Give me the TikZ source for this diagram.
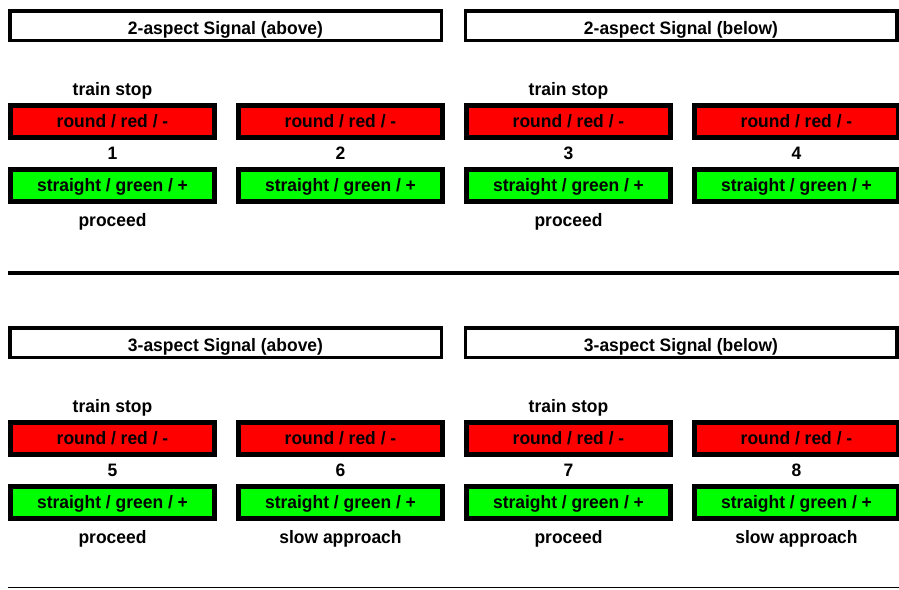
\documentclass[tikz,border=0pt]{standalone}
\usepackage{fontspec}
\setmainfont[FakeStretch=0.97]{Liberation Sans}
\begin{document}
\begin{tikzpicture}[x=1pt,y=-1pt,
  font=\fontsize{18}{20}\selectfont\bfseries,
  every node/.style={text height=12.9pt,text depth=0pt},
  sig/.style={draw=black,line width=5pt,minimum width=204pt,minimum height=32pt,inner sep=0pt,outer sep=0pt},
  redsig/.style={sig,fill=red},
  greensig/.style={sig,fill=green},
  hdr/.style={draw=black,line width=3.5pt,fill=white,minimum width=431.5pt,minimum height=29.5pt,inner sep=0pt,outer sep=0pt,text height=17.6pt},
  lbl/.style={inner sep=0pt}]
\useasboundingbox (0,0) rectangle (899,589);

% ---- 2-aspect section ----
\node[hdr] (h1) at (225.5,25.5) {2-aspect Signal (above)};
\node[hdr] (h2) at (681,25.5) {2-aspect Signal (below)};

\node[lbl] (ts1) at (112.5,89) {train stop};
\node[lbl] (ts3) at (568.5,89) {train stop};

\node[redsig] (r1) at (112.5,121.5) {round / red / -};
\node[redsig] (r2) at (340.5,121.5) {round / red / -};
\node[redsig] (r3) at (568.5,121.5) {round / red / -};
\node[redsig] (r4) at (796.5,121.5) {round / red / -};

\node[lbl] (n1) at (112.5,153) {1};
\node[lbl] (n2) at (340.5,153) {2};
\node[lbl] (n3) at (568.5,153) {3};
\node[lbl] (n4) at (796.5,153) {4};

\node[greensig] (g1) at (112.5,185) {straight / green / +};
\node[greensig] (g2) at (340.5,185) {straight / green / +};
\node[greensig] (g3) at (568.5,185) {straight / green / +};
\node[greensig] (g4) at (796.5,185) {straight / green / +};

\node[lbl] (p1) at (112.5,220) {proceed};
\node[lbl] (p3) at (568.5,220) {proceed};

\coordinate (la) at (8,272.7);
\coordinate (lb) at (899,272.7);
\draw[line width=4pt] (la) -- (lb);

% ---- 3-aspect section ----
\node[hdr] (h3) at (225.5,342.5) {3-aspect Signal (above)};
\node[hdr] (h4) at (681,342.5) {3-aspect Signal (below)};

\node[lbl] (ts5) at (112.5,406) {train stop};
\node[lbl] (ts7) at (568.5,406) {train stop};

\node[redsig] (r5) at (112.5,438) {round / red / -};
\node[redsig] (r6) at (340.5,438) {round / red / -};
\node[redsig] (r7) at (568.5,438) {round / red / -};
\node[redsig] (r8) at (796.5,438) {round / red / -};

\node[lbl] (n5) at (112.5,470) {5};
\node[lbl] (n6) at (340.5,470) {6};
\node[lbl] (n7) at (568.5,470) {7};
\node[lbl] (n8) at (796.5,470) {8};

\node[greensig] (g5) at (112.5,502) {straight / green / +};
\node[greensig] (g6) at (340.5,502) {straight / green / +};
\node[greensig] (g7) at (568.5,502) {straight / green / +};
\node[greensig] (g8) at (796.5,502) {straight / green / +};

\node[lbl] (p5) at (112.5,537) {proceed};
\node[lbl] (s6) at (340.5,537) {slow approach};
\node[lbl] (p7) at (568.5,537) {proceed};
\node[lbl] (s8) at (796.5,537) {slow approach};

\coordinate (lc) at (8,587.6);
\coordinate (ld) at (899,587.6);
\draw[line width=1.2pt] (lc) -- (ld);
\end{tikzpicture}
\end{document}
